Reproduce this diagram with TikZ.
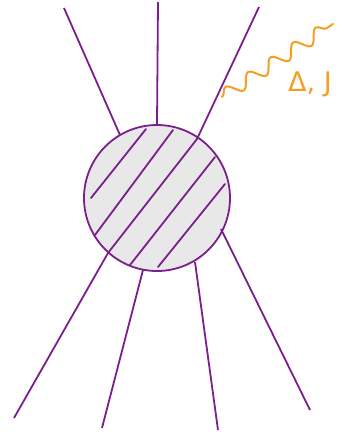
\documentclass[tikz,border=0pt]{standalone}
\usepackage{fontspec}
\setsansfont{DejaVu Sans}
\usetikzlibrary{decorations.pathmorphing}

\definecolor{legpurple}{RGB}{122,31,140}
\definecolor{waveorange}{RGB}{245,158,35}
\definecolor{blobgray}{RGB}{232,232,232}

\begin{document}
\begin{tikzpicture}[
    x=1pt, y=-1pt,
    leg/.style  ={draw=legpurple, line width=1.8pt},
    hatch/.style={draw=legpurple, line width=1.8pt, line cap=round},
    blob/.style ={circle, draw=legpurple, line width=1.8pt, fill=blobgray, minimum size=146pt, inner sep=0pt},
    photon/.style={draw=waveorange, line width=2pt, line cap=round,
                   decorate, decoration={snake, amplitude=6.5pt, segment length=27pt}},
    lbl/.style  ={text=waveorange, font=\sffamily\fontsize{27}{30}\selectfont},
]
\useasboundingbox (0,0) rectangle (344,432);
\node[blob] (vtx) at (157,198) {};
% hatching inside the blob
\draw[hatch] (91,198) -- (146,129);
\draw[hatch] (95,235) -- (173,130);
\draw[hatch] (130,265) -- (215,157);
\draw[hatch] (158,267) -- (225,184);
% legs
\draw[leg] (64,8) -- (120,135);
\draw[leg] (158,2) -- (vtx.north);
\draw[leg] (259,7) -- (197,139) -- (108,253) -- (14,418);
\draw[leg] (102,428) -- (143,270);
\draw[leg] (218,430) -- (195,262);
\draw[leg] (310,410) -- (221,229);
% emitted wave
\coordinate (wstart) at (222,97);
\coordinate (wend) at (333,24);
\draw[photon] (wstart) -- (wend);
\node[lbl] (dj) at (310,84) {Δ, J};
\end{tikzpicture}
\end{document}
